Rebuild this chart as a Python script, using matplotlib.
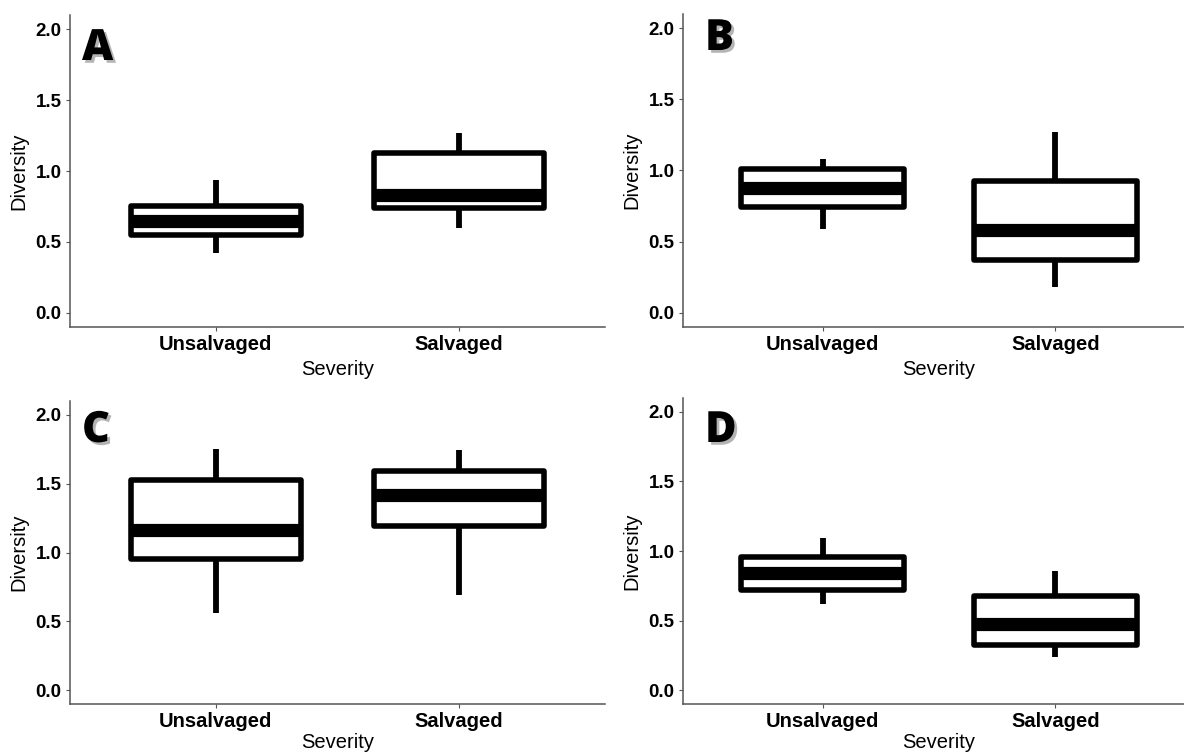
import matplotlib
matplotlib.use('Agg')
import matplotlib.pyplot as plt
import matplotlib.patheffects as pe

plt.rcParams['font.family'] = ['Liberation Sans', 'DejaVu Sans']

categories = ['Unsalvaged', 'Salvaged']
panel_labels = ['A', 'B', 'C', 'D']

# five number summaries (panels A, B, C, D)
unsalv_low = [0.42, 0.59, 0.56, 0.62]
unsalv_q1 = [0.55, 0.745, 0.95, 0.72]
unsalv_med = [0.645, 0.88, 1.165, 0.84]
unsalv_q3 = [0.75, 1.01, 1.53, 0.955]
unsalv_high = [0.94, 1.08, 1.75, 1.09]

salv_low = [0.60, 0.18, 0.69, 0.24]
salv_q1 = [0.74, 0.37, 1.19, 0.325]
salv_med = [0.83, 0.585, 1.415, 0.475]
salv_q3 = [1.125, 0.925, 1.59, 0.68]
salv_high = [1.27, 1.27, 1.745, 0.855]

yticks = [0.0, 0.5, 1.0, 1.5, 2.0]

W, H = 1184, 752
fig = plt.figure(figsize=(W / 100, H / 100), dpi=100)

# panel frames in pixels: left, top, right, bottom
frames = [(70, 15, 605, 327), (683, 14, 1195, 327),
          (70, 401, 605, 704), (683, 398, 1195, 704)]
letter_pos = [(82, 28), (705, 18), (82, 410), (705, 410)]
xlabel_pad = [4, 4, 1, 1]

for i in range(4):
    l, t, r, b = frames[i]
    ax = fig.add_axes([l / W, 1 - b / H, (r - l) / W, (b - t) / H])

    stats = [
        dict(whislo=unsalv_low[i], q1=unsalv_q1[i], med=unsalv_med[i],
             q3=unsalv_q3[i], whishi=unsalv_high[i], fliers=[]),
        dict(whislo=salv_low[i], q1=salv_q1[i], med=salv_med[i],
             q3=salv_q3[i], whishi=salv_high[i], fliers=[]),
    ]
    ax.bxp(stats, positions=[1, 2], widths=0.7, showcaps=False,
           showfliers=False, patch_artist=True,
           boxprops=dict(facecolor='white', edgecolor='black', linewidth=4,
                         joinstyle='round'),
           whiskerprops=dict(color='black', linewidth=4.2, solid_capstyle='butt'),
           medianprops=dict(color='black', linewidth=9.5, solid_capstyle='butt'))

    ax.set_xlim(0.4, 2.6)
    ax.set_ylim(-0.1, 2.1)
    ax.set_xticks([1, 2])
    ax.set_xticklabels(categories, fontsize=14.5, fontweight='bold')
    ax.set_yticks(yticks)
    ax.set_yticklabels(['%.1f' % v for v in yticks], fontsize=13.5, fontweight='bold')
    ax.tick_params(length=3, width=0.8, color='#555555', pad=3)

    for s in ['top', 'right']:
        ax.spines[s].set_visible(False)
    for s in ['left', 'bottom']:
        ax.spines[s].set_color('#555555')
        ax.spines[s].set_linewidth(1.1)

    ax.set_xlabel('Severity', fontsize=14.5, labelpad=xlabel_pad[i])
    ax.set_ylabel('Diversity', fontsize=14.5, labelpad=5)

    lx, ly = letter_pos[i]
    fig.text(lx / W, 1 - ly / H, panel_labels[i], fontsize=31,
             fontweight=800, family='Open Sans', va='top', ha='left',
             path_effects=[pe.SimplePatchShadow(offset=(2, -2), alpha=0.45,
                                                shadow_rgbFace='0.35'),
                           pe.Normal()])

fig.savefig('out.png', dpi=100)
